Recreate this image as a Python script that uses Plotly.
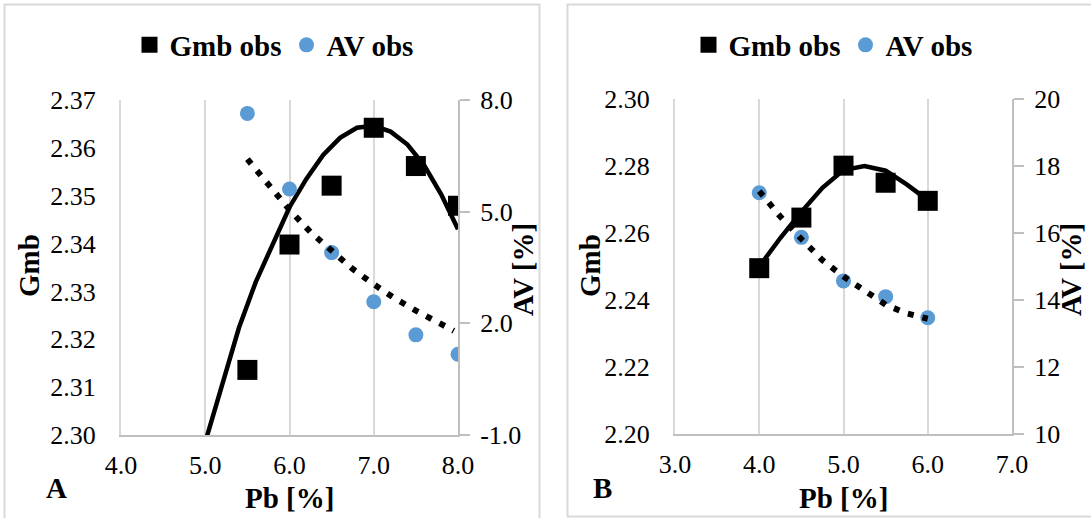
import plotly.graph_objects as go

W, H = 1091, 518
FONT = "Liberation Serif"

# ---------------- Panel A data ----------------
pb_a = [5.5, 6.0, 6.5, 7.0, 7.5, 8.0]
gmb_a = [2.3136, 2.3398, 2.3521, 2.3642, 2.3562, 2.3479]
av_a = [7.64, 5.61, 3.90, 2.58, 1.69, 1.17]

trend_gmb_pb_a = [5.0, 5.2, 5.4, 5.6, 5.8, 6.0, 6.2, 6.4, 6.6, 6.8, 7.0, 7.2, 7.4, 7.6, 7.8, 8.0]
trend_gmb_a = [2.2985, 2.3108, 2.3224, 2.3320, 2.3400, 2.3476, 2.3535, 2.3585,
               2.3621, 2.3642, 2.3646, 2.3634, 2.3607, 2.3563, 2.3503, 2.3430]
trend_av_pb_a = [5.5, 5.75, 6.0, 6.25, 6.5, 6.75, 7.0, 7.25, 7.5, 7.75, 7.95]
trend_av_a = [6.41, 5.70, 5.05, 4.45, 3.95, 3.46, 3.05, 2.67, 2.34, 2.04, 1.80]

# ---------------- Panel B data ----------------
pb_b = [4.0, 4.5, 5.0, 5.5, 6.0]
gmb_b = [2.2495, 2.2646, 2.2801, 2.2750, 2.2696]
av_b = [17.20, 15.87, 14.57, 14.10, 13.47]

trend_pb_b = [4.0, 4.25, 4.5, 4.75, 5.0, 5.25, 5.5, 5.75, 6.0]
trend_gmb_b = [2.2500, 2.2585, 2.2663, 2.2735, 2.2788, 2.2800, 2.2786, 2.2745, 2.2698]
trend_av_b = [17.25, 16.49, 15.82, 15.19, 14.70, 14.26, 13.86, 13.60, 13.44]

# tick labels
x_ticks_a = [4.0, 5.0, 6.0, 7.0, 8.0]
x_ticktext_a = ["4.0", "5.0", "6.0", "7.0", "8.0"]
y_ticks_a = [2.30, 2.31, 2.32, 2.33, 2.34, 2.35, 2.36, 2.37]
y_ticktext_a = ["2.30", "2.31", "2.32", "2.33", "2.34", "2.35", "2.36", "2.37"]
y2_ticks_a = [-1.0, 2.0, 5.0, 8.0]
y2_ticktext_a = ["-1.0", "2.0", "5.0", "8.0"]

x_ticks_b = [3.0, 4.0, 5.0, 6.0, 7.0]
x_ticktext_b = ["3.0", "4.0", "5.0", "6.0", "7.0"]
y_ticks_b = [2.20, 2.22, 2.24, 2.26, 2.28, 2.30]
y_ticktext_b = ["2.20", "2.22", "2.24", "2.26", "2.28", "2.30"]
y2_ticks_b = [10, 12, 14, 16, 18, 20]
y2_ticktext_b = ["10", "12", "14", "16", "18", "20"]

BLUE = "#5b9bd5"
GRID = "#d9d9d9"
AXL = "#bfbfbf"


def px(x):
    return x / W


def py(y):
    return 1 - y / H


fig = go.Figure()

# Panel A
fig.add_trace(go.Scatter(x=trend_gmb_pb_a, y=trend_gmb_a, mode="lines",
                         line=dict(color="black", width=4.5), showlegend=False,
                         xaxis="x", yaxis="y", hoverinfo="skip"))
fig.add_trace(go.Scatter(x=pb_a, y=gmb_a, mode="markers", name="Gmb obs",
                         marker=dict(symbol="square", size=20, color="black"),
                         xaxis="x", yaxis="y", legend="legend"))
fig.add_trace(go.Scatter(x=pb_a, y=av_a, mode="markers", name="AV obs",
                         marker=dict(symbol="circle", size=15, color=BLUE),
                         xaxis="x", yaxis="y2", legend="legend"))
fig.add_trace(go.Scatter(x=trend_av_pb_a, y=trend_av_a, mode="lines",
                         line=dict(color="black", width=6, dash="6px,9px"),
                         showlegend=False, xaxis="x", yaxis="y2", hoverinfo="skip"))

# Panel B
fig.add_trace(go.Scatter(x=trend_pb_b, y=trend_gmb_b, mode="lines",
                         line=dict(color="black", width=4.5), showlegend=False,
                         xaxis="x2", yaxis="y3", hoverinfo="skip"))
fig.add_trace(go.Scatter(x=pb_b, y=gmb_b, mode="markers", name="Gmb obs",
                         marker=dict(symbol="square", size=20, color="black"),
                         xaxis="x2", yaxis="y3", legend="legend2"))
fig.add_trace(go.Scatter(x=pb_b, y=av_b, mode="markers", name="AV obs",
                         marker=dict(symbol="circle", size=15, color=BLUE),
                         xaxis="x2", yaxis="y4", legend="legend2"))
fig.add_trace(go.Scatter(x=trend_pb_b, y=trend_av_b, mode="lines",
                         line=dict(color="black", width=6, dash="6px,9px"),
                         showlegend=False, xaxis="x2", yaxis="y4", hoverinfo="skip"))

tickfont = dict(family=FONT, size=26, color="black")
titlefont = dict(family=FONT, size=29, color="black", weight="bold")

xa_common = dict(showgrid=True, gridcolor=GRID, gridwidth=2, showline=True,
                 linecolor=AXL, linewidth=2, ticks="", zeroline=False,
                 tickfont=tickfont, fixedrange=True, ticklabelstandoff=6)
ya_common = dict(showgrid=False, showline=True, linecolor=GRID, linewidth=2,
                 ticks="", zeroline=False, tickfont=tickfont, fixedrange=True,
                 ticklabelstandoff=18)
y2_common = dict(showgrid=False, showline=True, linecolor=AXL, linewidth=2,
                 ticks="outside", ticklen=10, tickwidth=2, tickcolor=AXL,
                 zeroline=False, tickfont=tickfont, fixedrange=True,
                 side="right", ticklabelstandoff=5)

fig.update_layout(
    width=W, height=H,
    margin=dict(l=0, r=0, t=0, b=0, autoexpand=False),
    paper_bgcolor="white", plot_bgcolor="white",
    xaxis=dict(domain=[px(121), px(458)], range=[4, 8], tickvals=x_ticks_a,
               ticktext=x_ticktext_a, anchor="y", **xa_common),
    yaxis=dict(domain=[py(435), py(100)], range=[2.30, 2.37], tickvals=y_ticks_a,
               ticktext=y_ticktext_a, anchor="x", **ya_common),
    yaxis2=dict(domain=[py(435), py(100)], range=[-1, 8], tickvals=y2_ticks_a,
                ticktext=y2_ticktext_a, overlaying="y", anchor="x", **y2_common),
    xaxis2=dict(domain=[px(675), px(1012)], range=[3, 7], tickvals=x_ticks_b,
                ticktext=x_ticktext_b, anchor="y3", **xa_common),
    yaxis3=dict(domain=[py(434), py(99)], range=[2.20, 2.30], tickvals=y_ticks_b,
                ticktext=y_ticktext_b, anchor="x2", **ya_common),
    yaxis4=dict(domain=[py(434), py(99)], range=[10, 20], tickvals=y2_ticks_b,
                ticktext=y2_ticktext_b, overlaying="y3", anchor="x2", **y2_common),
    legend=dict(orientation="h", x=px(274), xanchor="center", y=py(45),
                yanchor="middle", font=titlefont, bgcolor="rgba(0,0,0,0)",
                itemclick=False, itemdoubleclick=False),
    legend2=dict(orientation="h", x=px(833), xanchor="center", y=py(45),
                 yanchor="middle", font=titlefont, bgcolor="rgba(0,0,0,0)",
                 itemclick=False, itemdoubleclick=False),
    showlegend=True,
)

# Panel frames
fig.add_shape(type="rect", xref="paper", yref="paper",
              x0=px(4.5), x1=px(539.5), y0=py(530), y1=py(4.5),
              line=dict(color=GRID, width=2), layer="below")
fig.add_shape(type="rect", xref="paper", yref="paper",
              x0=px(567.5), x1=px(1100), y0=py(516.5), y1=py(4.5),
              line=dict(color=GRID, width=2), layer="below")

# Axis titles and panel labels
def ann(text, x, y, angle=0, size=29):
    fig.add_annotation(text=text, xref="paper", yref="paper", x=px(x), y=py(y),
                       xanchor="center", yanchor="middle", showarrow=False,
                       textangle=angle,
                       font=dict(family=FONT, size=size, color="black", weight="bold"))

ann("Pb [%]", 289, 498)
ann("Gmb", 29, 266, -90)
ann("AV [%]", 523, 270, -90)
ann("A", 56, 488)
ann("Pb [%]", 843, 498)
ann("Gmb", 590, 266, -90)
ann("AV [%]", 1071, 270, -90)
ann("B", 603, 488)

fig.write_html("out.html")
